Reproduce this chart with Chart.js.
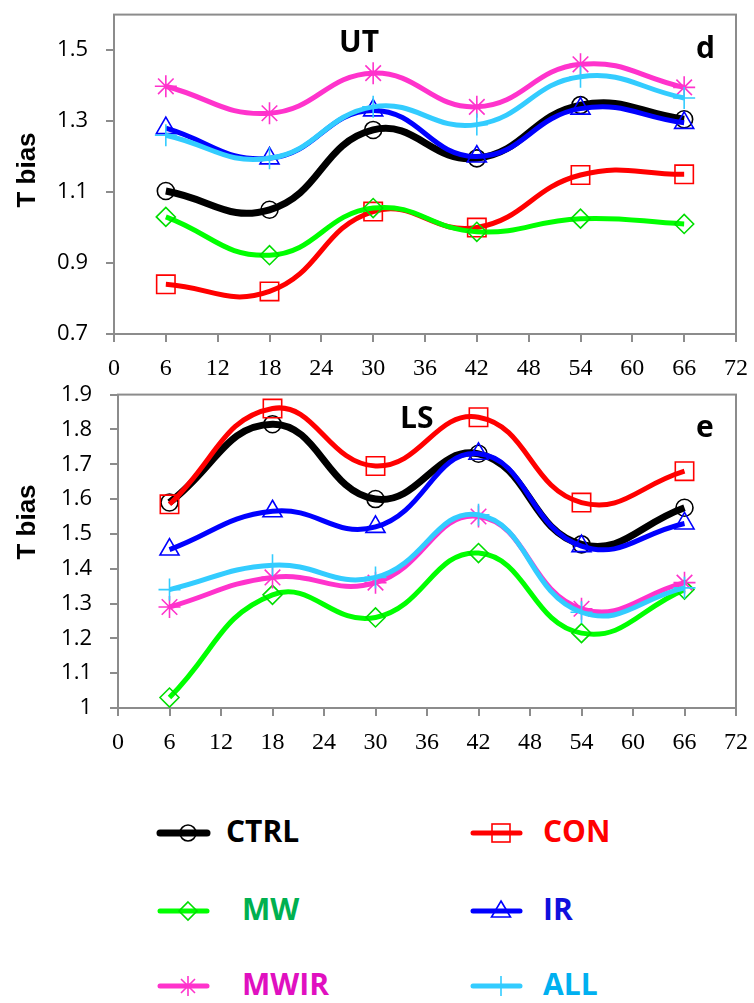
<!DOCTYPE html>
<html>
<head>
<meta charset="utf-8">
<script src="https://cdn.jsdelivr.net/npm/chart.js@4.4.0/dist/chart.umd.min.js"></script>
<style>
  body { margin: 0; background: #fff; width: 754px; height: 1003px; position: relative; overflow: hidden; }
  canvas { position: absolute; left: 0; }
  #utChart { top: 0; }
  #lsChart { top: 380px; }
  .note { position: absolute; font: bold 30px "Open Sans", sans-serif; line-height: 40px; height: 40px; color: #000; }
  .ytitle { position: absolute; width: 120px; height: 30px; line-height: 30px; text-align: center;
            font: bold 26px "Liberation Sans", Arial, sans-serif; transform: rotate(-90deg); white-space: nowrap; }
  .legsym { position: absolute; }
  .legtxt { position: absolute; font: bold 30px "Open Sans", sans-serif; line-height: 40px; height: 40px; }
</style>
</head>
<body>
<canvas id="utChart" width="754" height="380"></canvas>
<canvas id="lsChart" width="754" height="390"></canvas>

<div class="ytitle" style="left:-34px; top:155px;">T bias</div>
<div class="ytitle" style="left:-34px; top:507px;">T bias</div>
<div class="note" style="left:339px; top:21px;">UT</div>
<div class="note" style="left:696px; top:27px;">d</div>
<div class="note" style="left:400px; top:397px;">LS</div>
<div class="note" style="left:696px; top:406px;">e</div>

<div id="legend"></div>

<script>
// forecast hour (x) and tick values
const hours = [6, 18, 30, 42, 54, 66];
const xTicks = [0, 6, 12, 18, 24, 30, 36, 42, 48, 54, 60, 66, 72];
const yTicksUT = [0.7, 0.9, 1.1, 1.3, 1.5];
const yTicksLS = [1.0, 1.1, 1.2, 1.3, 1.4, 1.5, 1.6, 1.7, 1.8, 1.9];

const seriesNames = ['CTRL', 'CON', 'MW', 'IR', 'MWIR', 'ALL'];

// UT panel (d)
const utCTRL = [1.103, 1.050, 1.275, 1.195, 1.345, 1.305];
const utCON  = [0.840, 0.820, 1.045, 1.000, 1.148, 1.150];
const utMW   = [1.030, 0.922, 1.055, 0.988, 1.025, 1.010];
const utIR   = [1.280, 1.195, 1.330, 1.200, 1.335, 1.295];
const utMWIR = [1.398, 1.322, 1.435, 1.340, 1.460, 1.395];
const utALL  = [1.260, 1.195, 1.340, 1.290, 1.425, 1.365];

// LS panel (e)
const lsCTRL = [1.590, 1.815, 1.600, 1.730, 1.470, 1.575];
const lsCON  = [1.585, 1.860, 1.695, 1.835, 1.590, 1.680];
const lsMW   = [1.030, 1.325, 1.260, 1.445, 1.215, 1.340];
const lsIR   = [1.455, 1.565, 1.520, 1.730, 1.465, 1.530];
const lsMWIR = [1.290, 1.375, 1.360, 1.550, 1.285, 1.360];
const lsALL  = [1.340, 1.410, 1.375, 1.555, 1.275, 1.345];

// look of each series
const lineColors = ['#000000', '#ff0000', '#00ff00', '#0000ff', '#ff33cc', '#33ccff'];
const markColors = ['#000000', '#ff0000', '#00dd00', '#0000ff', '#ff33cc', '#33ccff'];
const textColors = ['#000000', '#ff0000', '#00b050', '#1010dd', '#e010c0', '#00b0f0'];
const markers    = ['circle', 'rect', 'rectRot', 'triangle', 'star', 'cross'];
const markSizes  = [8.5, 13, 9.5, 11, 11, 11];
const lineWidths = [7, 5, 5, 5, 5, 5];

function buildSets(series) {
  return series.map((vals, i) => ({
    label: seriesNames[i],
    data: hours.map((h, j) => ({ x: h, y: vals[j] })),
    borderColor: lineColors[i],
    borderWidth: lineWidths[i],
    tension: 0.45,
    pointStyle: markers[i],
    pointRadius: markSizes[i],
    pointBorderColor: markColors[i],
    pointBackgroundColor: 'rgba(0,0,0,0)',
    pointBorderWidth: 1.6,
    order: series.length - i
  }));
}

// grey frame round the plot area
const frame = {
  id: 'frame',
  beforeDatasetsDraw(chart) {
    const a = chart.chartArea, ctx = chart.ctx;
    ctx.save();
    ctx.strokeStyle = '#8c8c8c';
    ctx.lineWidth = 2;
    ctx.strokeRect(a.left, a.top, a.right - a.left, a.bottom - a.top);
    ctx.restore();
  }
};

function makeChart(id, series, yTicks, yMin, yMax, yWidth, xHeight, padTop) {
  return new Chart(document.getElementById(id), {
    type: 'line',
    data: { datasets: buildSets(series) },
    plugins: [frame],
    options: {
      responsive: false,
      animation: false,
      events: [],
      layout: { padding: { top: padTop, right: 18, left: 0, bottom: 0 } },
      plugins: { legend: { display: false }, tooltip: { enabled: false } },
      scales: {
        x: {
          type: 'linear', min: 0, max: 72,
          afterBuildTicks: s => { s.ticks = xTicks.map(v => ({ value: v })); },
          afterFit: s => { s.height = xHeight; s.paddingLeft = 0; s.paddingRight = 0; },
          grid: { drawOnChartArea: false, drawTicks: true, tickLength: 8, color: '#8c8c8c', lineWidth: 2 },
          border: { display: false },
          ticks: { color: '#000', padding: 12, maxRotation: 0, autoSkip: false,
                   font: { family: '"Liberation Serif", serif', size: 24 } }
        },
        y: {
          min: yMin, max: yMax,
          afterBuildTicks: s => { s.ticks = yTicks.map(v => ({ value: v })); },
          afterFit: s => { s.width = yWidth; s.paddingTop = 0; s.paddingBottom = 0; },
          grid: { drawOnChartArea: false, drawTicks: true, tickLength: 8, color: '#8c8c8c', lineWidth: 2 },
          border: { display: false },
          ticks: { color: '#000', padding: 18, autoSkip: false,
                   callback: v => String(+v.toFixed(1)),
                   font: { family: '"Open Sans", sans-serif', size: 22 } }
        }
      }
    }
  });
}

makeChart('utChart', [utCTRL, utCON, utMW, utIR, utMWIR, utALL], yTicksUT, 0.7, 1.6, 114, 46, 10);
makeChart('lsChart', [lsCTRL, lsCON, lsMW, lsIR, lsMWIR, lsALL], yTicksLS, 1.0, 1.9, 118, 62, 13);

// legend below the panels
const legendPos = [
  [155, 833, 226], [468, 833, 543],
  [155, 911, 242], [468, 911, 543],
  [155, 986, 242], [468, 986, 543]
];

function symbolSvg(i) {
  const c = markColors[i], s = 1.6;
  const cx = 33, cy = 20;
  let m = '';
  if (markers[i] === 'circle') m = `<circle cx="${cx}" cy="${cy}" r="8" fill="none" stroke="${c}" stroke-width="${s}"/>`;
  if (markers[i] === 'rect') m = `<rect x="${cx - 9}" y="${cy - 9}" width="18" height="18" fill="none" stroke="${c}" stroke-width="${s}"/>`;
  if (markers[i] === 'rectRot') m = `<path d="M${cx} ${cy - 9}L${cx + 9} ${cy}L${cx} ${cy + 9}L${cx - 9} ${cy}Z" fill="none" stroke="${c}" stroke-width="${s}"/>`;
  if (markers[i] === 'triangle') m = `<path d="M${cx} ${cy - 10}L${cx + 9.5} ${cy + 6}L${cx - 9.5} ${cy + 6}Z" fill="none" stroke="${c}" stroke-width="${s}"/>`;
  if (markers[i] === 'star') m = `<path d="M${cx} ${cy - 10}V${cy + 10}M${cx - 10} ${cy}H${cx + 10}M${cx - 7} ${cy - 7}L${cx + 7} ${cy + 7}M${cx - 7} ${cy + 7}L${cx + 7} ${cy - 7}" stroke="${c}" stroke-width="${s}"/>`;
  if (markers[i] === 'cross') m = `<path d="M${cx} ${cy - 10}V${cy + 10}M${cx - 10} ${cy}H${cx + 10}" stroke="${c}" stroke-width="${s}"/>`;
  return `<svg width="62" height="40"><line x1="5" y1="${cy}" x2="52" y2="${cy}" stroke="${lineColors[i]}" stroke-width="${lineWidths[i]}" stroke-linecap="round"/>${m}</svg>`;
}

const legend = document.getElementById('legend');
seriesNames.forEach((name, i) => {
  const [sx, cy, tx] = legendPos[i];
  legend.insertAdjacentHTML('beforeend',
    `<div class="legsym" style="left:${sx}px; top:${cy - 20}px;">${symbolSvg(i)}</div>` +
    `<div class="legtxt" style="left:${tx}px; top:${cy - 22}px; color:${textColors[i]};">${name}</div>`);
});
</script>
</body>
</html>
